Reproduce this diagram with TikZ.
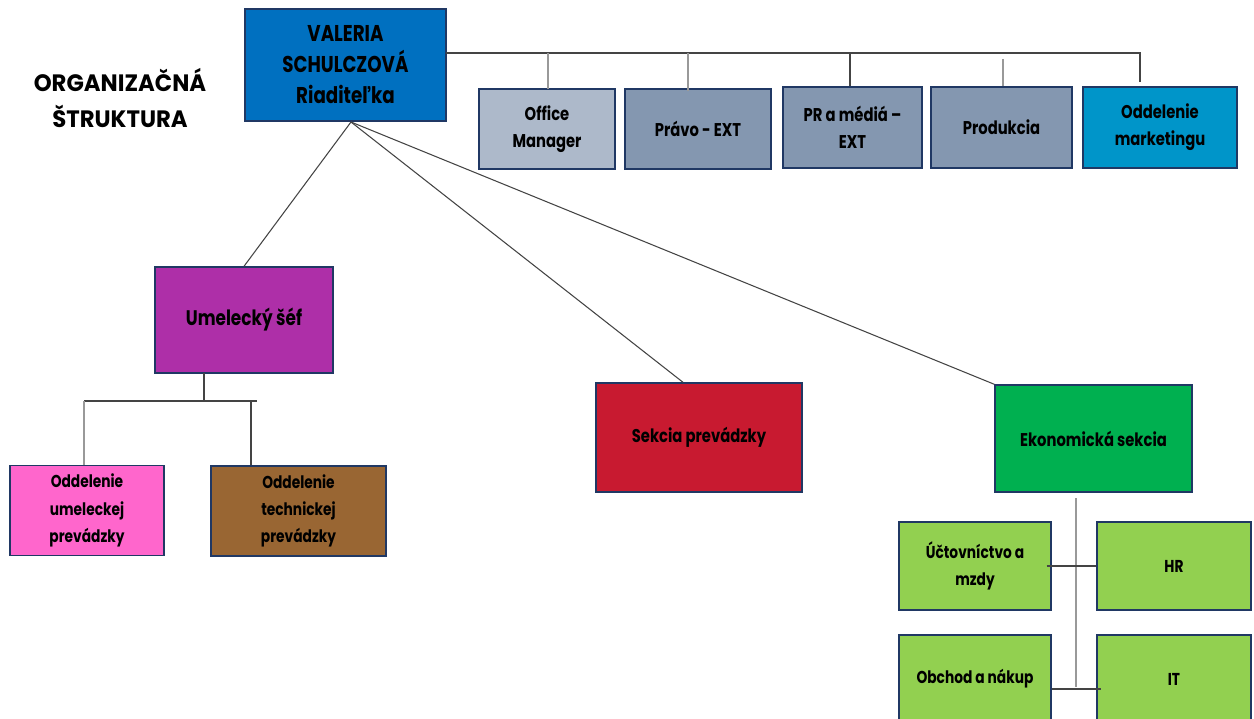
\documentclass[tikz,border=0pt]{standalone}
\usepackage{fontspec}
\setmainfont{Poppins}[FakeStretch=0.8]
\newfontfamily\titlefont{Poppins}[FakeStretch=0.96]
\usepackage{tikz}
\usetikzlibrary{positioning,calc}

\definecolor{edgeblue}{HTML}{203864}
\definecolor{linegray}{HTML}{444444}
\definecolor{lightgray}{HTML}{999999}
\definecolor{headblue}{HTML}{0070C0}
\definecolor{paleblue}{HTML}{ADB9CA}
\definecolor{greyblue}{HTML}{8497B0}
\definecolor{mktblue}{HTML}{0095C9}
\definecolor{artpurple}{HTML}{AE2FA8}
\definecolor{oprred}{HTML}{C81A30}
\definecolor{ecogreen}{HTML}{00B050}
\definecolor{artpink}{HTML}{FF66CC}
\definecolor{techbrown}{HTML}{996633}
\definecolor{subgreen}{HTML}{92D050}

\begin{document}
\begin{tikzpicture}[x=0.02cm, y=-0.02cm, font=\bfseries]
	\tikzstyle{unit}=[draw=edgeblue, line width=0.8pt, align=center, inner sep=2pt, text=black]
	\tikzstyle{link}=[draw=linegray, line width=0.6pt]
	\tikzstyle{glink}=[draw=lightgray, line width=0.8pt]
	\tikzstyle{huge}=[font=\bfseries\fontsize{13}{17.6}\selectfont]
	\tikzstyle{large}=[font=\bfseries\fontsize{12}{16}\selectfont]
	\tikzstyle{mid}=[font=\bfseries\fontsize{10.5}{15.5}\selectfont]
	\tikzstyle{small}=[font=\bfseries\fontsize{9.8}{15.5}\selectfont]
	\clip (0,0) rectangle (1254,719);
	\fill[white] (0,0) rectangle (1254,719);
	
	\node[font=\titlefont\bfseries\fontsize{13.5}{21}\selectfont, align=center] (T) at (120,98) {ORGANIZAČNÁ\\ŠTRUKTURA};
	\node[unit, huge, fill=headblue, minimum width=4.02cm, minimum height=2.24cm] (R) at (345.5,65) {VALERIA\\SCHULCZOVÁ\\Riaditeľka};
	
	\node[unit, mid, fill=paleblue, minimum width=2.72cm, minimum height=1.6cm] (OM) at (547,129) {Office\\Manager};
	\node[unit, mid, fill=greyblue, minimum width=2.92cm, minimum height=1.6cm] (PE) at (698,129) {Právo - EXT};
	\node[unit, mid, fill=greyblue, minimum width=2.78cm, minimum height=1.62cm] (PR) at (852.5,127.5) {PR a médiá --\\EXT};
	\node[unit, mid, fill=greyblue, minimum width=2.82cm, minimum height=1.62cm] (PD) at (1001.5,127.5) {Produkcia};
	\node[unit, mid, fill=mktblue, minimum width=3.08cm, minimum height=1.62cm] (MK) at (1160,127.5) {Oddelenie\\marketingu};
	
	\node[unit, large, fill=artpurple, minimum width=3.56cm, minimum height=2.12cm] (US) at (244,320) {Umelecký šéf};
	\node[unit, mid, fill=oprred, minimum width=4.12cm, minimum height=2.18cm] (SP) at (699,437.5) {Sekcia prevádzky};
	\node[unit, mid, fill=ecogreen, minimum width=3.94cm, minimum height=2.14cm] (ES) at (1093.5,438.5) {Ekonomická sekcia};
	
	\node[unit, small, fill=artpink, minimum width=3.08cm, minimum height=1.8cm] (OU) at (87,510.5) {Oddelenie\\umeleckej\\prevádzky};
	\node[unit, small, fill=techbrown, minimum width=3.5cm, minimum height=1.8cm] (OT) at (298.5,511) {Oddelenie\\technickej\\prevádzky};
	
	\node[unit, small, fill=subgreen, minimum width=3.04cm, minimum height=1.76cm] (UM) at (975,566) {Účtovníctvo a\\mzdy};
	\node[unit, small, fill=subgreen, minimum width=3.08cm, minimum height=1.76cm] (HR) at (1174,566) {HR};
	\node[unit, small, fill=subgreen, minimum width=3.04cm, minimum height=1.76cm] (OB) at (975,679) {Obchod a nákup};
	\node[unit, small, fill=subgreen, minimum width=3.08cm, minimum height=1.76cm] (IT) at (1174,679) {IT};
	
	% top bus
	\coordinate (busL) at (446,53);
	\coordinate (busR) at (1140,53);
	\coordinate (dOM) at (548,53);
	\coordinate (dPE) at (688,53);
	\coordinate (dPR) at (850,53);
	\coordinate (dPD) at (1003,59);
	\path[link] (busL) -- (busR) -- ($(busR |- MK.north)+(0,-4)$);
	\path[glink] (dOM) -- ($(dOM |- OM.north)+(0,1)$);
	\path[glink] (dPE) -- ($(dPE |- PE.north)+(0,3)$);
	\path[link] (dPR) -- (dPR |- PR.north);
	\path[glink] (dPD) -- (dPD |- PD.north);
	
	% sections
	\coordinate (hub) at (351,122);
	\path[link]
	(hub) edge (US.north)
	(hub) edge ($(SP.north)+(-16,0)$)
	(hub) edge (ES.north west);
	
	% art branch
	\coordinate (uD) at (204,373);
	\coordinate (brL) at (84,401);
	\coordinate (brR) at (251,401);
	\coordinate (brE) at (257,401);
	\path[link] (uD) -- (uD |- brL);
	\path[link] (brL) -- (brE);
	\path[glink] (brL) -- (brL |- OU.north);
	\path[link] (brR) -- (brR |- OT.north);
	
	% economic branch
	\coordinate (eT) at (1076,498);
	\coordinate (eB) at (1076,687);
	\path[glink] (eT) -- (eB);
	\path[link] ($(UM.east)+(-5,0)$) -- (HR.west);
	\path[link] ($(OB.east)+(0,10)$) -- ($(IT.west)+(5,10)$);
\end{tikzpicture}
\end{document}
